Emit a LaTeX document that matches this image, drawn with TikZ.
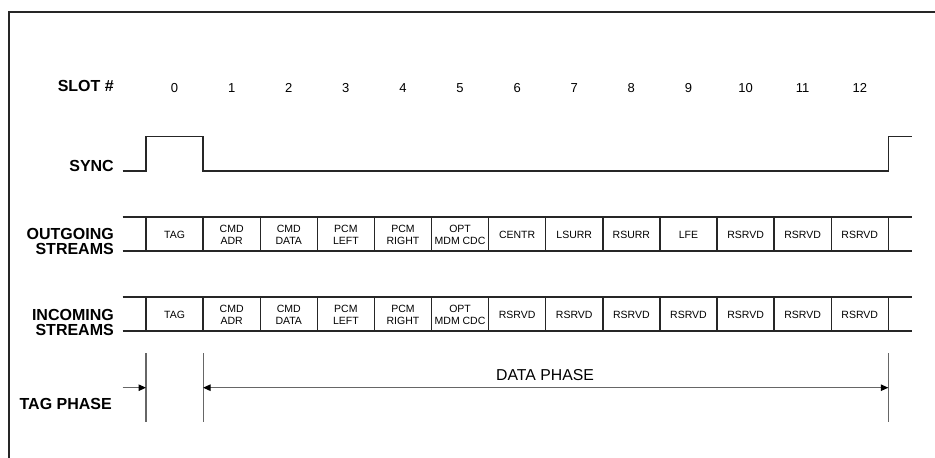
\documentclass[tikz,border=0pt]{standalone}
\usepackage{fontspec}
\setmainfont{Liberation Sans}
\usetikzlibrary{arrows.meta}
\begin{document}
\begin{tikzpicture}[x=1pt,y=-1pt,
  lbl/.style={font=\fontsize{16}{15}\selectfont\bfseries, anchor=east, align=right, inner sep=0pt},
  num/.style={font=\fontsize{13}{13}\selectfont, inner sep=0pt},
  cell/.style={font=\fontsize{10.5}{12}\selectfont, align=center, inner sep=0pt},
  wire/.style={line width=1.4pt, draw=black!85},
  phase/.style={line width=1.1pt, draw=black!60},
  tipr/.style={-{Triangle[length=7.5pt 0,width=6.5pt 0,color=black]}},
  tipb/.style={{Triangle[length=7.5pt 0,width=6.5pt 0,color=black]}-{Triangle[length=7.5pt 0,width=6.5pt 0,color=black]}}
]
\useasboundingbox (0,0) rectangle (935,458);
\clip (0,0) rectangle (935,458);
\fill[white] (0,0) rectangle (935,458);
% frame
\draw[line width=1.5pt, draw=black!85] (9,470) -- (9,12) -- (945,12);

\def\sw{57.1}
% labels
\node[lbl] (slotlbl) at (114,86) {SLOT \#};
\node[lbl] (synclbl) at (114,166) {SYNC};
\node[lbl] (outlbl) at (114,241) {OUTGOING\\STREAMS};
\node[lbl] (inlbl) at (114,322) {INCOMING\\STREAMS};
\node[lbl] (taglbl) at (112,404) {TAG PHASE};

% slot numbers
\foreach \k in {0,...,12}{
  \node[num] (n\k) at ({146+\sw*(\k+0.5)},88) {\k};
}

% sync waveform
\coordinate (s0) at (122.7,171);
\coordinate (s1) at (146,171);
\coordinate (s2) at (146,136.5);
\coordinate (s3) at (203.1,136.5);
\coordinate (s4) at (203.1,171);
\coordinate (s5) at (888.3,171);
\coordinate (s6) at (888.3,136.5);
\coordinate (s7) at (911.7,136.5);
\draw[wire, line join=miter] (s0) -- (s1) -- (s2) -- (s3) -- (s4) -- (s5) -- (s6) -- (s7);

% stream rows
\foreach \t/\b in {217/251, 297/331}{
  \draw[wire] (122.7,\t) -- (911.7,\t);
  \draw[wire] (122.7,\b) -- (911.7,\b);
  \foreach \k in {0,...,13}{
    \draw[wire] ({146+\sw*\k},\t) -- ({146+\sw*\k},\b);
  }
}
% outgoing texts
\foreach \k/\txt in {0/TAG,1/CMD\\ADR,2/CMD\\DATA,3/PCM\\LEFT,4/PCM\\RIGHT,5/OPT\\MDM CDC,6/CENTR,7/LSURR,8/RSURR,9/LFE,10/RSRVD,11/RSRVD,12/RSRVD}{
  \node[cell] (o\k) at ({146+\sw*(\k+0.5)},234.5) {\txt};
}
% incoming texts
\foreach \k/\txt in {0/TAG,1/CMD\\ADR,2/CMD\\DATA,3/PCM\\LEFT,4/PCM\\RIGHT,5/OPT\\MDM CDC,6/RSRVD,7/RSRVD,8/RSRVD,9/RSRVD,10/RSRVD,11/RSRVD,12/RSRVD}{
  \node[cell] (i\k) at ({146+\sw*(\k+0.5)},314.5) {\txt};
}

% phase markers
\coordinate (v0t) at (146,353); \coordinate (v0b) at (146,422);
\coordinate (v1t) at (203.1,353); \coordinate (v1b) at (203.1,422);
\coordinate (v2t) at (888.3,353); \coordinate (v2b) at (888.3,422);
\draw[phase] (v0t) -- (v0b);
\draw[phase] (v1t) -- (v1b);
\draw[phase] (v2t) -- (v2b);
\coordinate (a0) at (122.7,387.7);
\coordinate (a1) at (146,387.7);
\coordinate (a2) at (203.1,387.7);
\coordinate (a3) at (888.3,387.7);
\draw[phase, tipr] (a0) -- (a1);
\draw[phase, tipb] (a2) -- (a3);
\node[font=\fontsize{15.8}{16}\selectfont, inner sep=0pt] (dlbl) at (545,375) {DATA PHASE};
\end{tikzpicture}
\end{document}
